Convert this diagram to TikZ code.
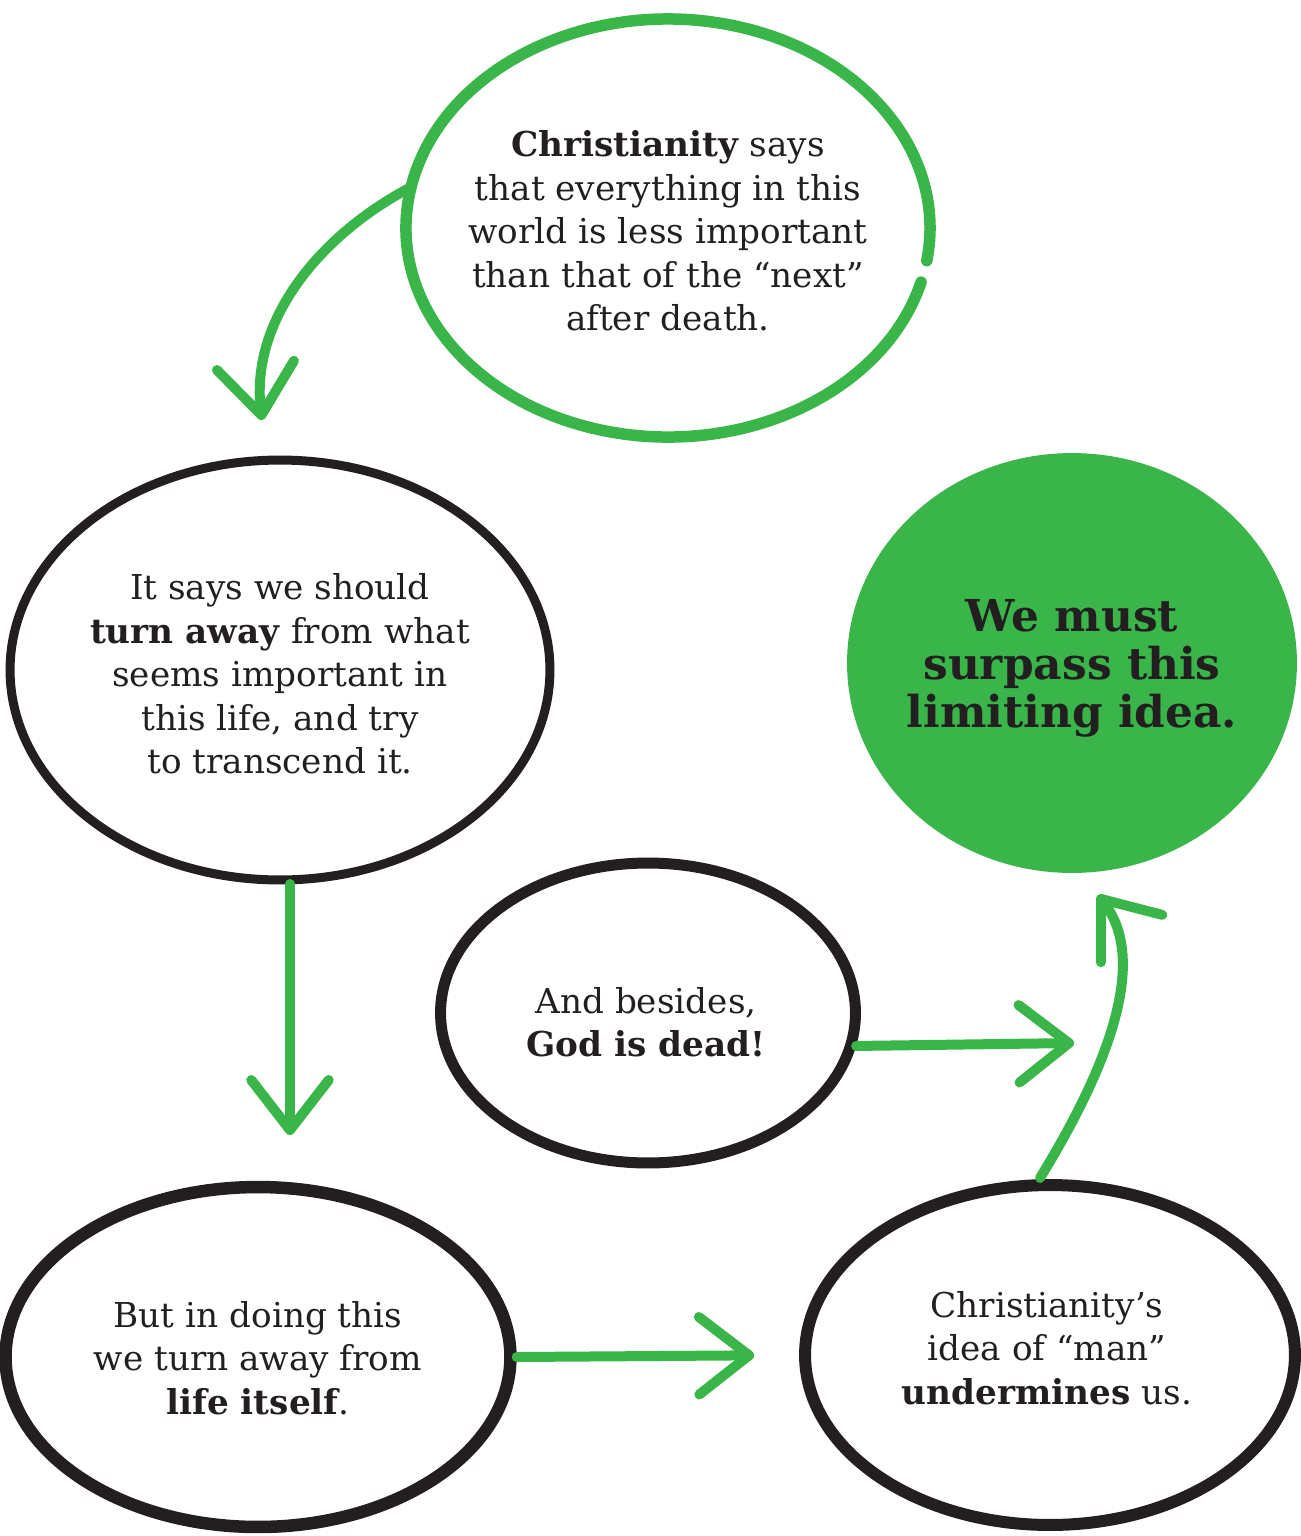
\documentclass[tikz,border=0pt]{standalone}
\usepackage{fontspec}
\setmainfont{DejaVu Serif}
\usetikzlibrary{shapes.geometric,arrows.meta}
\definecolor{cgreen}{HTML}{3AB54A}
\definecolor{cblack}{HTML}{231F20}
\tikzset{
  bubble/.style={ellipse, inner sep=0pt},
  txt/.style={align=center, inner sep=0pt, text=cblack,
    font=\fontsize{19.5}{24.7}\selectfont},
  blackring/.style={bubble, draw=cblack, line width=0.22cm},
  garrow/.style={draw=cgreen, line width=0.2cm, line cap=round,
    -{Straight Barb[length=1.0cm,width=1.55cm,round]}},
}
\begin{document}
\begin{tikzpicture}[x=0.02cm,y=-0.02cm]
\useasboundingbox (0,0) rectangle (1301,1536);
% bubbles
\node[bubble, minimum width=10.48cm, minimum height=8.36cm] (top) at (668,228) {};
\draw[cgreen, line width=0.23cm, line cap=round] (668,228) ++(15:262 and 209)
  arc[start angle=15, end angle=369, x radius=262, y radius=209];
\node[blackring, line width=0.18cm, minimum width=10.8cm, minimum height=8.4cm] (left) at (280,670) {};
\node[bubble, fill=cgreen, minimum width=9.0cm, minimum height=8.4cm] (goal) at (1072,663) {};
\node[blackring, minimum width=8.3cm, minimum height=6.0cm] (mid) at (648,1013) {};
\node[blackring, line width=0.25cm, minimum width=10.1cm, minimum height=6.8cm] (bl) at (258,1357) {};
\node[blackring, line width=0.24cm, minimum width=9.8cm, minimum height=6.8cm] (br) at (1050,1355) {};
% texts
\node[txt] (toptxt) at (668,231)
  {\textbf{Christianity} says\\that everything in this\\world is less important\\than that of the “next”\\after death.};
\node[txt] (lefttxt) at (280,674)
  {It says we should\\\textbf{turn away} from what\\seems important in\\this life, and try\\to transcend it.};
\node[txt, font=\fontsize{25}{27.3}\selectfont\bfseries] (goaltxt) at (1072,668)
  {We must\\surpass this\\limiting idea.};
\node[txt] (midtxt) at (646,1022) {And besides,\\\textbf{God is dead!}};
\node[txt] (bltxt) at (258,1358) {But in doing this\\we turn away from\\\textbf{life itself}.};
\node[txt] (brtxt) at (1047,1348) {Christianity’s\\idea of “man”\\\textbf{undermines} us.};
% tips
\coordinate (tipA) at (262,420);
\coordinate (startB) at (290,884);
\coordinate (tipB) at (290,1135);
\coordinate (tipC) at (1074,1043);
\coordinate (tipD) at (1098,895);
\coordinate (startD) at (1040,1178);
% connectors
\draw[garrow] (top.171) .. controls (320,235) and (250,320) .. (tipA);
\draw[garrow] (startB) -- (tipB);
\draw[garrow] (mid.-9) -- (tipC);
\draw[garrow] (startD) .. controls (1100,1080) and (1152,965) .. (tipD);
\draw[garrow, shorten >=0.9cm] (bl.east) -- (br.west);
\end{tikzpicture}
\end{document}
